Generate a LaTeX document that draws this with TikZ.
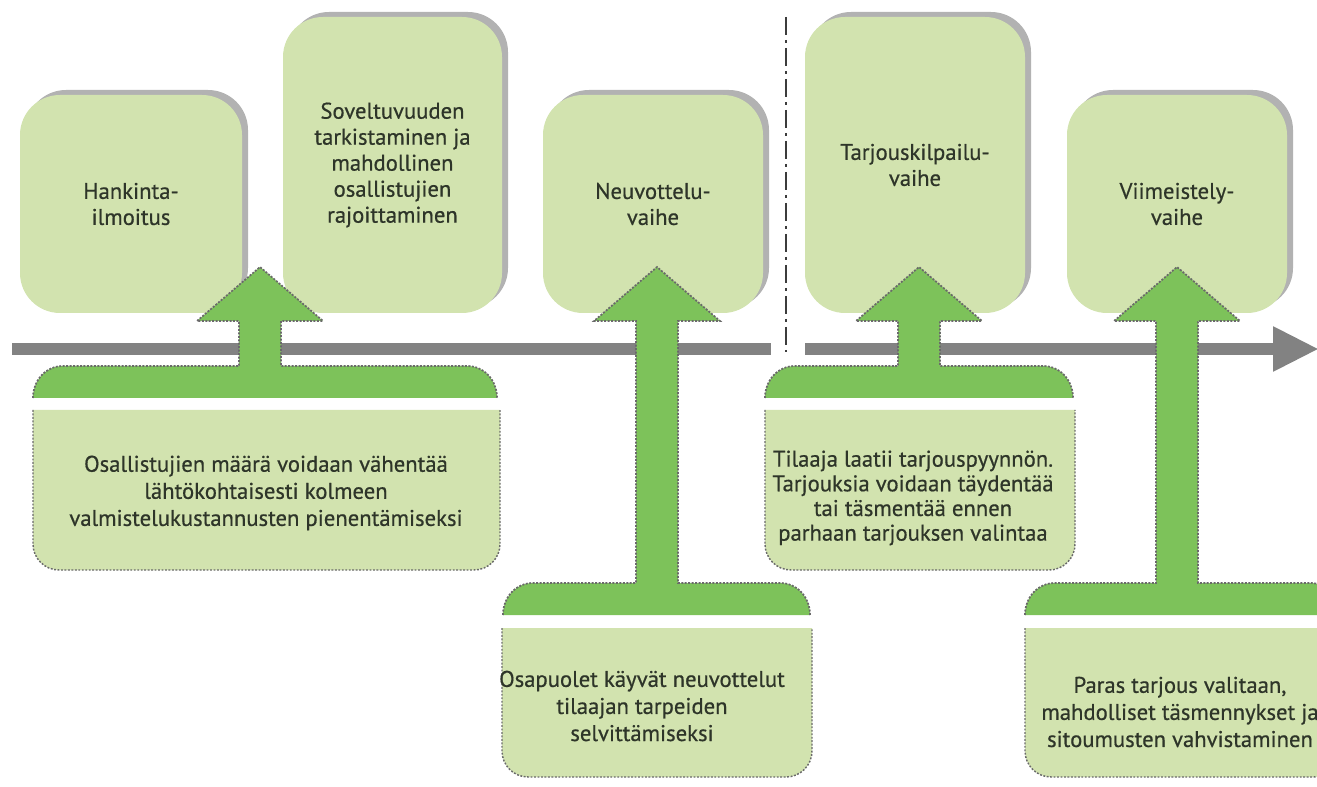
\documentclass[tikz,border=0pt]{standalone}
\usepackage{fontspec}
\setmainfont{PT Sans}[FakeBold=0.6]
\usetikzlibrary{shadows,arrows.meta}
\definecolor{lightg}{HTML}{D2E3AF}
\definecolor{darkg}{HTML}{7DC25A}
\definecolor{shadowg}{HTML}{B2B2B2}
\definecolor{outl}{HTML}{6A6A6A}
\definecolor{tlgray}{HTML}{828282}
\definecolor{txt}{HTML}{2E3529}
\definecolor{divc}{HTML}{3C3C3C}
\tikzset{
  phase/.style={fill=lightg, rounded corners=30pt, inner sep=0pt, align=center,
    text=txt, font=\fontsize{17}{19.5}\selectfont,
    drop shadow={shadow xshift=4.5pt, shadow yshift=3.75pt, fill=shadowg, opacity=1}},
  note/.style={align=center, text=txt, font=\fontsize{17}{20.3}\selectfont, inner sep=0pt},
  arrowshape/.style={fill=darkg, draw=outl, line width=1.3pt, dash pattern=on 1.5pt off 1.1pt},
  notebox/.style={fill=lightg, draw=outl, line width=1.1pt, dash pattern=on 1.4pt off 1.2pt, rounded corners=19.5pt},
  timeline/.style={draw=tlgray, line width=9pt},
  divider/.style={draw=divc, line width=1.9pt, dash pattern=on 13.5pt off 3.75pt on 2.25pt off 3.75pt}
}
% #1 stem centre x, #2 bar left, #3 bar right, #4 bar top
\newcommand{\greenarrow}[4]{%
  \filldraw[arrowshape] (#2,#4+32) .. controls (#2,#4+14) and (#2+13,#4) .. (#2+30,#4)
    -- (#1-21,#4) -- (#1-21,321) -- (#1-63,321) -- (#1,267) -- (#1+63,321)
    -- (#1+21,321) -- (#1+21,#4) -- (#3-30,#4)
    .. controls (#3-13,#4) and (#3,#4+14) .. (#3,#4+32);
}
% #1 left, #2 top, #3 right, #4 bottom
\newcommand{\notebg}[4]{%
  \filldraw[notebox] (#1,#2) -- (#1,#4) -- (#3,#4) -- (#3,#2);
}
\begin{document}
\begin{tikzpicture}[x=0.75pt,y=-0.75pt]
\useasboundingbox (0,0) rectangle (1317,787);
\clip (0,0) rectangle (1317,787);

% phase boxes
\node[phase, minimum width=166.5pt, minimum height=163.5pt] (p1) at (131,204) {Hankinta-\\ilmoitus};
\node[phase, minimum width=164.25pt, minimum height=222pt] (p2) at (392.5,165) {Soveltuvuuden\\tarkistaminen ja\\mahdollinen\\osallistujien\\rajoittaminen};
\node[phase, minimum width=165pt, minimum height=163.5pt] (p3) at (653,204) {Neuvottelu-\\vaihe};
\node[phase, minimum width=165pt, minimum height=222pt] (p4) at (915,165) {Tarjouskilpailu-\\vaihe};
\node[phase, minimum width=165pt, minimum height=163.5pt] (p5) at (1177,204) {Viimeistely-\\vaihe};

% timeline
\coordinate (tlA) at (12,349);
\coordinate (tlB) at (771,349);
\coordinate (tlC) at (805,349);
\coordinate (tlD) at (1319,349);
\draw[timeline] (tlA) -- (tlB);
\draw[timeline, -{Triangle[length=34.5pt, width=31.5pt]}] (tlC) -- (tlD);

% divider
\coordinate (dv1) at (786,17);
\coordinate (dv2) at (786,352);
\draw[divider] (dv1) -- (dv2);

% green arrows
\greenarrow{260}{33}{497}{366}
\greenarrow{657}{503}{810}{583}
\greenarrow{919}{765}{1073}{366}
\greenarrow{1177}{1025}{1340}{583}

% note boxes
\notebg{33}{410}{500}{570}
\notebg{502}{628}{812}{777}
\notebg{765}{410}{1075}{570}
\notebg{1025}{628}{1340}{777}

\node[note] (n1) at (266,493) {Osallistujien määrä voidaan vähentää\\lähtökohtaisesti kolmeen\\valmistelukustannusten pienentämiseksi};
\node[note] (n2) at (642,706) {Osapuolet käyvät neuvottelut\\tilaajan tarpeiden\\selvittämiseksi};
\node[note, font=\fontsize{17}{18.5}\selectfont] (n3) at (913,498) {Tilaaja laatii tarjouspyynnön.\\Tarjouksia voidaan täydentää\\tai täsmentää ennen\\parhaan tarjouksen valintaa};
\node[note] (n4) at (1180,712) {Paras tarjous valitaan,\\mahdolliset täsmennykset ja\\sitoumusten vahvistaminen};
\end{tikzpicture}
\end{document}
